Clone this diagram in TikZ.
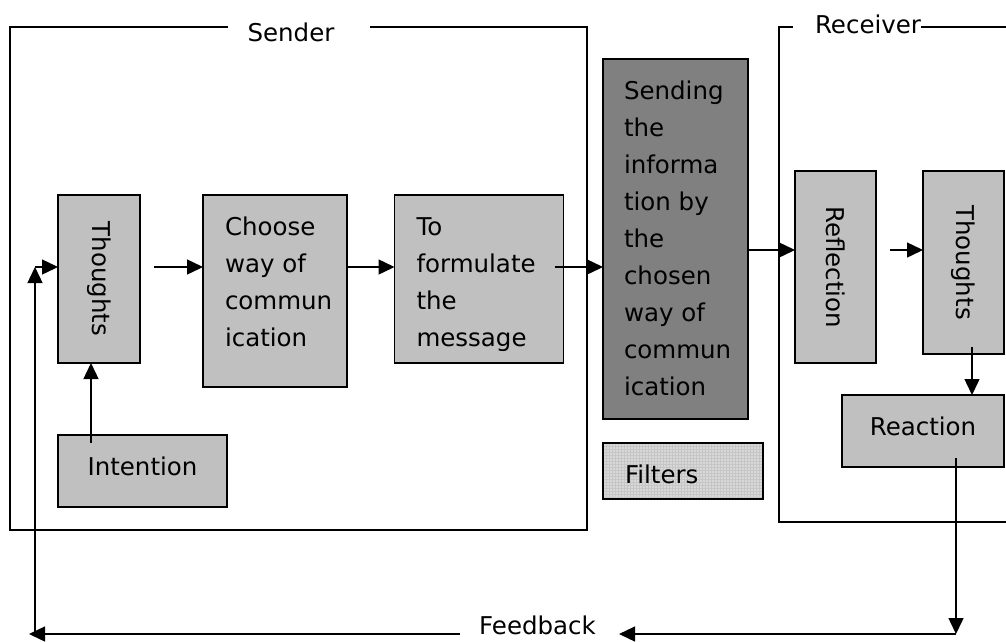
\documentclass[tikz,border=0pt]{standalone}
\usepackage{fontspec}
\setmainfont{DejaVu Sans}
\usepackage{graphicx}
\usetikzlibrary{arrows.meta,calc,patterns}
\definecolor{boxgray}{RGB}{192,192,192}
\definecolor{darkbox}{RGB}{128,128,128}
\definecolor{filtgray}{RGB}{216,216,216}
\hyphenpenalty=10000
\exhyphenpenalty=10000
\newcommand{\btext}[3]{\parbox[c][#2][t]{#1}{\raggedright\rule{0pt}{40pt}#3}}
\newcommand{\ctext}[3]{\parbox[c][#2][t]{#1}{\centering\rule{0pt}{40pt}#3}}
\begin{document}
\begin{tikzpicture}[x=1pt,y=-1pt,
  font=\fontsize{24.5}{37}\selectfont,
  box/.style={draw, line width=1.8pt, fill=boxgray, inner xsep=22pt, inner ysep=0pt, outer sep=0pt},
  rbox/.style={draw, line width=1.8pt, fill=boxgray, inner sep=0pt, outer sep=0pt},
  fbox/.style={draw, line width=1.8pt, preaction={fill=filtgray}, pattern=grid, pattern color=gray!45, inner xsep=22pt, inner ysep=0pt, outer sep=0pt},
  arr/.style={line width=1.4pt, -{Triangle[length=16pt,width=15pt]}},
  frame/.style={line width=1.4pt},
  lbl/.style={inner sep=0pt}]
\useasboundingbox (0,0) rectangle (1006,641);

% frames
\draw[frame] (228,27) -- (10,27) -- (10,530) -- (587,530) -- (587,27) -- (370,27);
\draw[frame] (793,27) -- (779,27) -- (779,522) -- (1006,522);
\draw[frame] (921,27) -- (1006,27);
\node[lbl] (sender) at (291,32.5) {Sender};
\node[lbl] (receiver) at (868,24) {Receiver};

% boxes
\node[box] (intent) at (142.5,471) {\ctext{125pt}{72pt}{Intention}};
\node[rbox, minimum width=82pt, minimum height=168pt] (think1) at (99,279) {\rotatebox{-90}{Thoughts}};
\node[box] (choose) at (275,291) {\btext{100pt}{192pt}{Choose\\way of\\commun\\ication}};
\node[box] (form) at (479,279) {\btext{125pt}{168pt}{To\\formulate\\the\\message}};
\node[box, fill=darkbox, inner xsep=21pt] (send) at (675.5,239) {\btext{103pt}{360pt}{Sending\\the\\informa\\tion by\\the\\chosen\\way of\\commun\\ication}};
\node[fbox] (filt) at (683,471) {\btext{116pt}{56pt}{Filters}};
\node[rbox, minimum width=81pt, minimum height=192pt] (refl) at (835.5,267) {\rotatebox{-90}{Reflection}};
\node[rbox, minimum width=81pt, minimum height=183pt] (think2) at (963.5,262.5) {\rotatebox{-90}{Thoughts}};
\node[box] (react) at (923,431) {\ctext{118pt}{72pt}{Reaction}};
\node[lbl] (fb) at (537.5,625) {Feedback};

% helper coordinates
\coordinate (ysend) at (0,267);
\coordinate (yrec) at (0,250);
\coordinate (yfb) at (0,634);
\coordinate (fbTop) at (35,267);
\coordinate (fbCorner) at (35,634);
\coordinate (fbEnd) at (29,634);

% connectors
\draw[arr] ($(intent.north -| think1.south)+(-8,8)$) -- ($(think1.south)+(-8,0)$);
\draw[arr] (fbCorner) -- (fbTop);
\draw[arr] (fbTop) -- (think1.west |- ysend);
\draw[arr] ($(think1.east |- ysend)+(14,0)$) -- (choose.west |- ysend);
\draw[arr] (choose.east |- ysend) -- (form.west |- ysend);
\draw[arr] ($(form.east |- ysend)+(-9,0)$) -- (send.west |- ysend);
\draw[arr] (send.east |- yrec) -- (refl.west |- yrec);
\draw[arr] ($(refl.east |- yrec)+(14,0)$) -- (think2.west |- yrec);
\draw[arr] ($(think2.south)+(8.5,-7)$) -- ($(react.north -| think2.south)+(8.5,0)$);
\draw[arr] ($(react.center)+(33,27)$) -- ($(react.center |- yfb)+(33,0)$);
\draw[arr] ($(react.center |- yfb)+(33,0)$) -- ($(fb.east |- yfb)+(23,0)$);
\draw[arr] ($(fb.west |- yfb)+(-19,0)$) -- (fbEnd);
\end{tikzpicture}
\end{document}
